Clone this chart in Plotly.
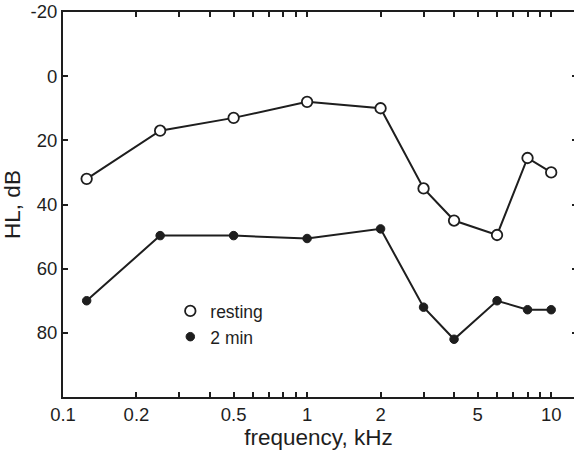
import plotly.graph_objects as go
import math

freq = [0.125, 0.25, 0.5, 1, 2, 3, 4, 6, 8, 10]
resting = [32, 17, 13, 8, 10, 35, 45, 49.5, 25.5, 30]
two_min = [70, 49.7, 49.7, 50.6, 47.6, 72, 82, 70, 72.8, 72.8]

x_tickvals = [0.1, 0.2, 0.3, 0.4, 0.5, 0.6, 0.7, 0.8, 0.9, 1, 2, 3, 4, 5, 6, 7, 8, 9, 10]
x_labels = {0.1: "0.1", 0.2: "0.2", 0.5: "0.5", 1: "1", 2: "2", 5: "5", 10: "10"}
x_ticktext = [x_labels.get(v, "") for v in x_tickvals]
y_tickvals = [-20, 0, 20, 40, 60, 80]
y_ticktext = ["-20", "0", "20", "40", "60", "80"]
y_range = [100, -20]

ink = "#1e1e1e"
fig = go.Figure()
fig.add_trace(go.Scatter(x=freq, y=resting, mode="lines", line=dict(color=ink, width=2),
                         showlegend=False, hoverinfo="skip"))
fig.add_trace(go.Scatter(x=freq, y=two_min, mode="lines", line=dict(color=ink, width=2),
                         showlegend=False, hoverinfo="skip"))
fig.add_trace(go.Scatter(x=freq, y=resting, mode="markers", name="resting",
                         marker=dict(symbol="circle", size=10.5, color="white",
                                     line=dict(color=ink, width=1.8))))
fig.add_trace(go.Scatter(x=freq, y=two_min, mode="markers", name="2 min",
                         marker=dict(symbol="circle", size=8.5, color=ink,
                                     line=dict(color=ink, width=1))))
# invisible trace to activate right-side tick axis
fig.add_trace(go.Scatter(x=[None], y=[None], yaxis="y2", showlegend=False, hoverinfo="skip"))

fig.update_layout(
    width=574, height=453,
    margin=dict(l=63, r=0, t=12, b=56),
    paper_bgcolor="white", plot_bgcolor="white",
    font=dict(family="Liberation Sans, Arial, sans-serif", size=18.5, color=ink),
    legend=dict(x=0.21, y=0.27, xanchor="left", yanchor="top",
                bgcolor="rgba(0,0,0,0)", font=dict(size=17.5), tracegroupgap=0,
                itemwidth=30),
    xaxis=dict(type="log", range=[-1, math.log10(12.4)],
               tickvals=x_tickvals, ticktext=x_ticktext,
               ticks="inside", ticklen=5, tickwidth=1.5, tickcolor=ink,
               showline=True, linewidth=2, linecolor=ink, mirror="ticks",
               showgrid=False, zeroline=False,
               title=dict(text="frequency, kHz", standoff=5, font=dict(size=22.5))),
    yaxis=dict(range=y_range, tickvals=y_tickvals, ticktext=y_ticktext,
               ticks="inside", ticklen=5, tickwidth=1.5, tickcolor=ink,
               showline=True, linewidth=2, linecolor=ink, mirror=False,
               showgrid=False, zeroline=False,
               title=dict(text="HL, dB", standoff=4, font=dict(size=22.5))),
    yaxis2=dict(range=y_range, overlaying="y", side="right",
                tickvals=y_tickvals, ticks="inside", ticklen=2, tickwidth=1.5,
                tickcolor=ink, showticklabels=False, showline=False,
                showgrid=False, zeroline=False),
)

fig.write_html("out.html")
